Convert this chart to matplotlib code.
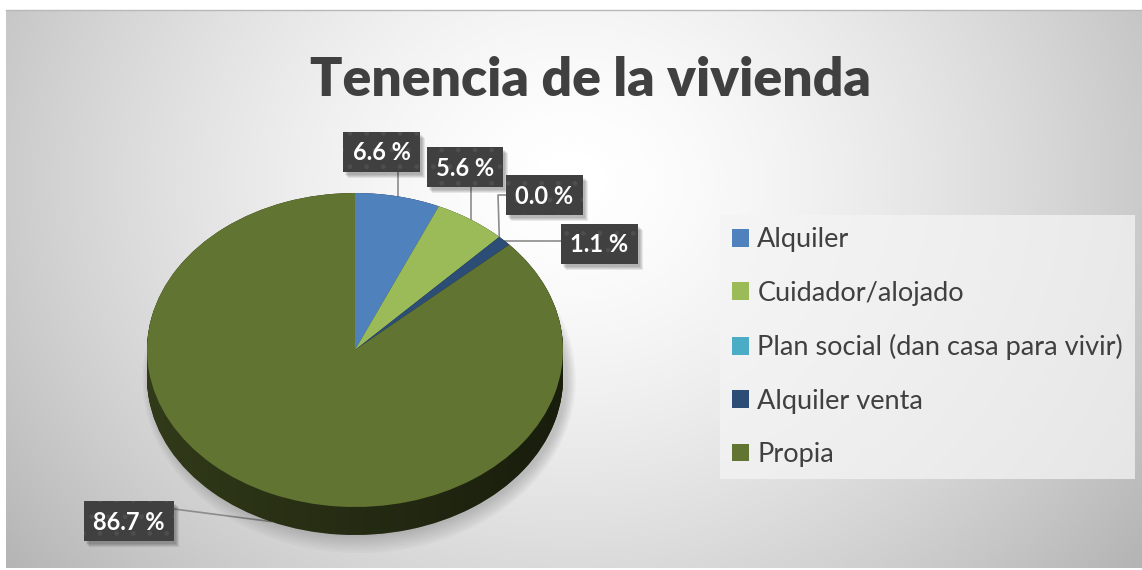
import numpy as np
import matplotlib.pyplot as plt
import matplotlib.colors as mcolors
from matplotlib.patches import Rectangle, Ellipse, Polygon

# =============================================================================
# Data
# =============================================================================
labels = ['Alquiler', 'Cuidador/alojado', 'Plan social (dan casa para vivir)',
          'Alquiler venta', 'Propia']
values = [6.6, 5.6, 0.0, 1.1, 86.7]
colors = ['#4f81bd', '#9bbb59', '#4bacc6', '#2c4d75', '#617431']
title = 'Tenencia de la vivienda'

W, H = 1142, 570
fig = plt.figure(figsize=(W/100., H/100.), dpi=100)
bg = fig.add_axes([0, 0, 1, 1])
bg.axis('off')

# background radial gradient
x0, x1, y0, y1 = 6, W, 10, 568
xx, yy = np.meshgrid(np.linspace(x0, x1, 400), np.linspace(y0, y1, 200))
r = np.sqrt(((xx-570)/650.)**2 + ((yy-180)/560.)**2)
v = 1.0 - 0.25*np.clip(r, 0, 1.2)**1.5
bg.imshow(v, cmap='gray', vmin=0, vmax=1, extent=[x0, x1, y1, y0],
          aspect='auto', zorder=0, interpolation='bicubic')
bg.plot([x0, x1], [y0, y0], color='#b8b8b8', lw=1, zorder=1)
bg.set_xlim(0, W)
bg.set_ylim(H, 0)

# =============================================================================
# 3D-looking pie
# =============================================================================
cx, cy, a, b, depth = 355, 350, 208, 157, 28
d = depth/float(b)
pax = fig.add_axes([(cx-a)/float(W), 1-(cy+b+depth)/float(H), 2*a/float(W), (2*b+depth)/float(H)])
dark = [tuple(np.array(mcolors.to_rgb(c))*0.5) for c in colors]

# soft shadow
for i in range(8):
    e = Ellipse((0.02, -d-0.01), 2+0.012*i, 2+0.03*i, fc='k', ec='none',
                alpha=0.025, zorder=0, clip_on=False)
    pax.add_patch(e)

for k in np.linspace(d, 0, 40):
    pax.pie(values, colors=dark, startangle=90, counterclock=False,
            center=(0, -k), wedgeprops=dict(linewidth=0, zorder=1))

# shading on the side
t1 = np.linspace(np.pi, 2*np.pi, 100)
t2 = np.linspace(0, np.pi, 100)
pts = [(-1, 0)] + list(zip(np.cos(t1), np.sin(t1)-d)) + [(1, 0)] + list(zip(np.cos(t2), np.sin(t2)))
side = Polygon(pts, closed=True, fc='none', ec='none')
pax.add_patch(side)
grad = np.zeros((2, 200, 4))
grad[..., 3] = np.linspace(0.0, 0.5, 200)[None, :]
im = pax.imshow(grad, extent=[-1, 1, -1-d, 1], aspect='auto', zorder=2)
im.set_clip_path(side)

wedges, _ = pax.pie(values, colors=colors, startangle=90, counterclock=False,
                    wedgeprops=dict(linewidth=0, zorder=3))
pax.set_xlim(-1, 1)
pax.set_ylim(-1-d, 1)
pax.set_aspect('auto')
pax.axis('off')

# =============================================================================
# Data labels
# =============================================================================
cum = np.cumsum([0]+values[:-1])
mids = (cum + np.array(values)/2.)/100.*2*np.pi
anc_x = cx + a*np.sin(mids)
anc_y = cy - b*np.cos(mids)
anc_y[-1] += depth

boxes = [(343, 132, 77), (427, 147, 76), (506, 175, 77), (561, 224, 77), (84, 501, 90)]
bh = 40
plt.rcParams['hatch.linewidth'] = 1.0
lc = '#8c8c8c'
for i, (l, t, w) in enumerate(boxes):
    if i < 2:
        bg.plot([anc_x[i], anc_x[i]], [t+bh, anc_y[i]], color=lc, lw=1.2, zorder=4)
    elif i == 2:
        bg.plot([l, l-8, anc_x[i]], [t+20, t+20, anc_y[i]], color=lc, lw=1.2, zorder=4)
    elif i == 3:
        bg.plot([anc_x[i], l], [anc_y[i], anc_y[i]], color=lc, lw=1.2, zorder=4)
    else:
        bg.plot([l+w, anc_x[i]], [t+8, anc_y[i]], color=lc, lw=1.2, zorder=4)
    for s in range(4):
        bg.add_patch(Rectangle((l+2+s, t+3+s), w, bh, fc='k', ec='none', alpha=0.08, zorder=5))
    bg.add_patch(Rectangle((l, t), w, bh, fc='#404040', ec='#4e4e4e', lw=0,
                           hatch='.', zorder=6))
    bg.text(l+w/2., t+bh/2.+1, '%.1f %%' % values[i], color='white', fontsize=17,
            fontweight='bold', family='Lato', ha='center', va='center', zorder=7)

# =============================================================================
# Title and legend
# =============================================================================
bg.text(590, 96, title, ha='center', va='baseline', fontsize=38.5, fontweight='heavy',
        family='Lato', color='#404040', zorder=7)

leg = fig.legend(wedges, labels, loc='upper left', bbox_to_anchor=(720./W, 1-215./H),
                 frameon=True, facecolor='#f4f4f4', edgecolor='none', framealpha=0.75,
                 fancybox=False, prop=dict(family='Lato', size=19.5), labelcolor='#404040',
                 handlelength=0.63, handleheight=0.63, handletextpad=0.3, labelspacing=1.05,
                 borderpad=0.45, borderaxespad=0)

fig.savefig('out.png', dpi=100)
